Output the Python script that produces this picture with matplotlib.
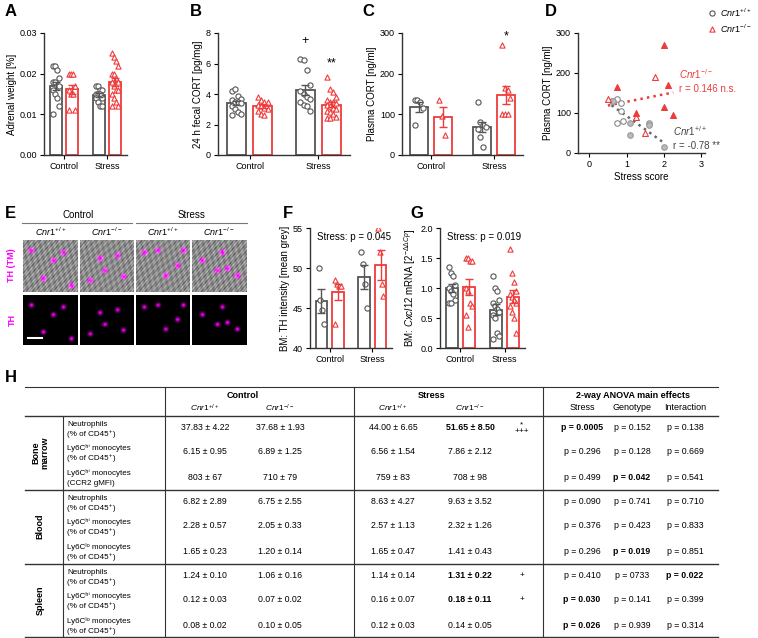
import numpy as np
import matplotlib.pyplot as plt

W, H = 758, 638
GREY = '#555555'
RED = '#ee3b3b'
WT = r'$\it{Cnr1}^{+/+}$'
KO = r'$\it{Cnr1}^{-/-}$'

# ---- data ----
groups = ['Control', 'Stress']
adrenal = {
    ('Control', 'wt'): [0.022, 0.022, 0.021, 0.019, 0.018, 0.018, 0.017, 0.017, 0.016, 0.015, 0.014, 0.012, 0.010],
    ('Control', 'ko'): [0.020, 0.020, 0.020, 0.017, 0.016, 0.015, 0.015, 0.011, 0.011],
    ('Stress', 'wt'): [0.017, 0.017, 0.016, 0.016, 0.015, 0.015, 0.015, 0.014, 0.014, 0.013, 0.012, 0.012],
    ('Stress', 'ko'): [0.025, 0.024, 0.023, 0.022, 0.020, 0.020, 0.019, 0.018, 0.018, 0.017, 0.016, 0.016, 0.015, 0.014, 0.013, 0.012, 0.012],
}
fecal = {
    ('Control', 'wt'): [4.2, 4.3, 3.9, 3.7, 3.6, 3.5, 3.5, 3.4, 3.2, 3.0, 2.8, 2.7, 2.6],
    ('Control', 'ko'): [3.8, 3.6, 3.5, 3.5, 3.3, 3.2, 3.1, 3.0, 2.9, 2.7, 2.6],
    ('Stress', 'wt'): [6.3, 6.2, 5.6, 4.6, 4.2, 4.0, 3.8, 3.7, 3.5, 3.3, 3.2, 2.9],
    ('Stress', 'ko'): [5.1, 4.3, 4.1, 3.8, 3.6, 3.5, 3.5, 3.4, 3.3, 3.2, 3.1, 3.0, 2.9, 2.8, 2.7, 2.5, 2.4, 2.4],
}
plasma = {
    ('Control', 'wt'): [135, 135, 130, 115, 75],
    ('Control', 'ko'): [135, 95, 50],
    ('Stress', 'wt'): [130, 80, 75, 70, 65, 45, 20],
    ('Stress', 'ko'): [270, 165, 160, 140, 100, 100, 100],
}
th_int = {
    ('Control', 'wt'): [50, 46, 44.7, 43],
    ('Control', 'ko'): [48.5, 48, 47.8, 47.7, 43],
    ('Stress', 'wt'): [52, 50.5, 48, 45],
    ('Stress', 'ko'): [55, 52, 48, 46.5],
}
cxcl12 = {
    ('Control', 'wt'): [1.35, 1.25, 1.2, 1.05, 1.0, 0.95, 0.9, 0.8, 0.75, 0.75],
    ('Control', 'ko'): [1.5, 1.5, 1.45, 1.45, 1.0, 0.95, 0.75, 0.7, 0.55, 0.35],
    ('Stress', 'wt'): [1.2, 1.0, 0.95, 0.8, 0.75, 0.7, 0.65, 0.6, 0.55, 0.5, 0.25, 0.2, 0.15],
    ('Stress', 'ko'): [1.65, 1.25, 1.1, 0.95, 0.9, 0.85, 0.8, 0.75, 0.7, 0.6, 0.5, 0.25],
}
# D scatter
d_wt_open_x = [0.6, 0.75, 0.75, 0.85, 0.85, 0.9]
d_wt_open_y = [130, 135, 75, 125, 105, 80]
d_wt_fill_x = [0.65, 1.1, 1.1, 1.6, 1.6, 2.0]
d_wt_fill_y = [130, 75, 45, 75, 70, 15]
d_ko_open_x = [0.5, 1.25, 1.5, 1.75]
d_ko_open_y = [135, 90, 50, 190]
d_ko_fill_x = [0.75, 1.25, 2.0, 2.0, 2.1, 2.25]
d_ko_fill_y = [165, 100, 270, 115, 170, 95]

# table
tbl_groups = ['Bone\nmarrow', 'Blood', 'Spleen']
tbl_rows_1 = ['Neutrophils', 'Ly6Cʰⁱ monocytes', 'Ly6Cʰⁱ monocytes',
              'Neutrophils', 'Ly6Cʰⁱ monocytes', 'Ly6Cˡᵒ monocytes',
              'Neutrophils', 'Ly6Cʰⁱ monocytes', 'Ly6Cˡᵒ monocytes']
tbl_rows_2 = ['(% of CD45⁺)', '(% of CD45⁺)', '(CCR2 gMFI)',
              '(% of CD45⁺)', '(% of CD45⁺)', '(% of CD45⁺)',
              '(% of CD45⁺)', '(% of CD45⁺)', '(% of CD45⁺)']
ctrl_wt = ['37.83 ± 4.22', '6.15 ± 0.95', '803 ± 67', '6.82 ± 2.89', '2.28 ± 0.57', '1.65 ± 0.23', '1.24 ± 0.10', '0.12 ± 0.03', '0.08 ± 0.02']
ctrl_ko = ['37.68 ± 1.93', '6.89 ± 1.25', '710 ± 79', '6.75 ± 2.55', '2.05 ± 0.33', '1.20 ± 0.14', '1.06 ± 0.16', '0.07 ± 0.02', '0.10 ± 0.05']
str_wt = ['44.00 ± 6.65', '6.56 ± 1.54', '759 ± 83', '8.63 ± 4.27', '2.57 ± 1.13', '1.65 ± 0.47', '1.14 ± 0.14', '0.16 ± 0.07', '0.12 ± 0.03']
str_ko = ['51.65 ± 8.50', '7.86 ± 2.12', '708 ± 98', '9.63 ± 3.52', '2.32 ± 1.26', '1.41 ± 0.43', '1.31 ± 0.22', '0.18 ± 0.11', '0.14 ± 0.05']
str_ko_bold = [1, 0, 0, 0, 0, 0, 1, 1, 0]
marks = ['*\n+++', '', '', '', '', '', '+', '+', '']
p_stress = ['p = 0.0005', 'p = 0.296', 'p = 0.499', 'p = 0.090', 'p = 0.376', 'p = 0.296', 'p = 0.410', 'p = 0.030', 'p = 0.026']
p_geno = ['p = 0.152', 'p = 0.128', 'p = 0.042', 'p = 0.741', 'p = 0.423', 'p = 0.019', 'p = 0733', 'p = 0.141', 'p = 0.939']
p_inter = ['p = 0.138', 'p = 0.669', 'p = 0.541', 'p = 0.710', 'p = 0.833', 'p = 0.851', 'p = 0.022', 'p = 0.399', 'p = 0.314']
bold_stress = [1, 0, 0, 0, 0, 0, 0, 1, 1]
bold_geno = [0, 0, 1, 0, 0, 1, 0, 0, 0]
bold_inter = [0, 0, 0, 0, 0, 0, 1, 0, 0]

plt.rcParams['font.family'] = ['Liberation Sans', 'DejaVu Sans']
plt.rcParams['mathtext.fontset'] = 'custom'
plt.rcParams['mathtext.rm'] = 'Liberation Sans'
plt.rcParams['mathtext.it'] = 'Liberation Sans:italic'
plt.rcParams['font.size'] = 7

fig = plt.figure(figsize=(W / 100, H / 100), dpi=100)


def ax_px(x0, y0, x1, y1):
    return fig.add_axes([x0 / W, 1 - y1 / H, (x1 - x0) / W, (y1 - y0) / H])


def ftx(x, y, s, **kw):
    fig.text(x / W, 1 - y / H, s, **kw)


def style(ax):
    for s in ['top', 'right']:
        ax.spines[s].set_visible(False)
    for s in ['left', 'bottom']:
        ax.spines[s].set_linewidth(1.0)
        ax.spines[s].set_color('#333333')
    ax.tick_params(labelsize=6.5, length=3, width=0.8, pad=2)


def barplot(ax, data, ylim, ticks, ylabel):
    pos = {('Control', 'wt'): 0, ('Control', 'ko'): 1, ('Stress', 'wt'): 2.6, ('Stress', 'ko'): 3.6}
    for key, vals in data.items():
        vals = np.array(vals)
        x = pos[key]
        c = GREY if key[1] == 'wt' else RED
        m = vals.mean()
        se = vals.std(ddof=1) / np.sqrt(len(vals))
        ax.bar(x, m, width=0.72, facecolor='white', edgecolor=c, linewidth=1.3, zorder=1)
        ax.errorbar(x, m, yerr=se, color=c, capsize=3, lw=1, capthick=1, zorder=3)
        n = len(vals)
        off = (np.arange(n) % 4 - 1.5) * 0.12
        if key[1] == 'wt':
            ax.scatter(x + off, vals, s=14, marker='o', facecolor='white', edgecolor=GREY, lw=0.8, zorder=2)
        else:
            ax.scatter(x + off, vals, s=14, marker='^', facecolor='white', edgecolor=RED, lw=0.8, zorder=2)
    ax.set_xlim(-0.7, 4.3)
    ax.set_ylim(*ylim)
    ax.set_yticks(ticks)
    ax.set_xticks([0.5, 3.1])
    ax.set_xticklabels(groups)
    ax.set_ylabel(ylabel, fontsize=7, labelpad=2)
    style(ax)


# A
ax = ax_px(44, 33, 127, 155)
barplot(ax, adrenal, (0, 0.03), [0, 0.01, 0.02, 0.03], 'Adrenal weight [%]')
ax.set_yticklabels(['0.00', '0.01', '0.02', '0.03'])
# B
ax = ax_px(218, 33, 350, 155)
barplot(ax, fecal, (0, 8), [0, 2, 4, 6, 8], '24 h fecal CORT [pg/mg]')
ax.text(2.6, 7.3, '+', ha='center', fontsize=9)
ax.text(3.6, 5.8, '**', ha='center', fontsize=9)
# C
ax = ax_px(402, 33, 523, 155)
barplot(ax, plasma, (0, 300), [0, 100, 200, 300], 'Plasma CORT [ng/ml]')
ax.text(3.6, 285, '*', ha='center', fontsize=9)

# D
ax = ax_px(578, 33, 705, 153)
ax.scatter(d_wt_open_x, d_wt_open_y, s=16, marker='o', facecolor='white', edgecolor='#888888', lw=0.8, zorder=3)
ax.scatter(d_wt_fill_x, d_wt_fill_y, s=16, marker='o', facecolor='#bbbbbb', edgecolor='#999999', lw=0.8, zorder=3)
ax.scatter(d_ko_open_x, d_ko_open_y, s=18, marker='^', facecolor='white', edgecolor=RED, lw=0.8, zorder=3)
ax.scatter(d_ko_fill_x, d_ko_fill_y, s=18, marker='^', facecolor=RED, edgecolor=RED, lw=0.8, zorder=3)
wx = np.array(d_wt_open_x + d_wt_fill_x); wy = np.array(d_wt_open_y + d_wt_fill_y)
kx = np.array(d_ko_open_x + d_ko_fill_x); ky = np.array(d_ko_open_y + d_ko_fill_y)
for xs, ys, c in [(wx, wy, '#666666'), (kx, ky, RED)]:
    k, b = np.polyfit(xs, ys, 1)
    xx = np.array([xs.min(), xs.max()])
    ax.plot(xx, k * xx + b, ':', color=c, lw=1.8, zorder=2)
ax.set_xlim(-0.3, 3.1)
ax.set_ylim(0, 300)
ax.set_xticks([0, 1, 2, 3])
ax.set_yticks([0, 100, 200, 300])
ax.set_xlabel('Stress score', fontsize=7, labelpad=2)
ax.set_ylabel('Plasma CORT [ng/ml]', fontsize=7, labelpad=2)
style(ax)
ax.text(2.4, 185, KO, color=RED, fontsize=7)
ax.text(2.4, 152, 'r = 0.146 n.s.', color=RED, fontsize=7)
ax.text(2.25, 42, WT, color='#444444', fontsize=7)
ax.text(2.25, 10, 'r = -0.78 **', color='#444444', fontsize=7)
# legend
leg = ax_px(704, 5, 720, 37)
leg.scatter([0.5], [0.75], s=14, marker='o', facecolor='white', edgecolor=GREY, lw=0.8)
leg.scatter([0.5], [0.25], s=14, marker='^', facecolor='white', edgecolor=RED, lw=0.8)
leg.set_xlim(0, 1); leg.set_ylim(0, 1); leg.axis('off')
ftx(720, 13, WT, fontsize=6.5, va='center')
ftx(720, 29, KO, fontsize=6.5, va='center')

# E images (schematic)
img_x = [22, 79, 135, 191, 247]
yy, xx = np.mgrid[0:52, 0:55]
texture = 0.55 + 0.12 * np.sin(xx * 0.9 + yy * 0.35) * np.cos(yy * 0.6 - xx * 0.2) + 0.08 * np.sin(xx * 2.1 + yy * 1.7)
blobs = [
    [(8, 10), (30, 20), (40, 12), (20, 38), (48, 45)],
    [(10, 40), (25, 30), (38, 15), (44, 36), (20, 18)],
    [(8, 12), (22, 10), (30, 35), (42, 25), (48, 10)],
    [(10, 20), (25, 30), (35, 28), (45, 35), (30, 12)],
]
for i in range(4):
    x0, x1 = img_x[i] + 1, img_x[i + 1] - 1
    top = ax_px(x0, 240, x1, 292)
    rgb = np.dstack([texture] * 3)
    bot = np.zeros((52, 55, 3))
    for (bx, by) in blobs[i]:
        d = np.exp(-((xx - bx) ** 2 + (yy - by) ** 2) / 5.0)
        rgb[..., 0] = np.clip(rgb[..., 0] + d, 0, 1)
        rgb[..., 1] = np.clip(rgb[..., 1] - 0.6 * d, 0, 1)
        rgb[..., 2] = np.clip(rgb[..., 2] + d, 0, 1)
        bot[..., 0] += d
        bot[..., 2] += d
    top.imshow(rgb, aspect='auto')
    bot_ax = ax_px(x0, 295, x1, 345)
    bot_ax.imshow(np.clip(bot, 0, 1), aspect='auto')
    for a in (top, bot_ax):
        a.set_xticks([]); a.set_yticks([])
        for s in a.spines.values():
            s.set_visible(False)
    ftx((img_x[i] + img_x[i + 1]) / 2, 232, WT if i % 2 == 0 else KO, ha='center', va='center', fontsize=6.5)
ftx(78, 215, 'Control', ha='center', va='center', fontsize=7)
ftx(191, 215, 'Stress', ha='center', va='center', fontsize=7)
fig.add_artist(plt.Line2D([22 / W, 132 / W], [1 - 223 / H] * 2, color='#777777', lw=0.8))
fig.add_artist(plt.Line2D([136 / W, 247 / W], [1 - 223 / H] * 2, color='#777777', lw=0.8))
ftx(12, 265, 'TH (TM)', rotation=90, ha='center', va='center', fontsize=6.5, color='magenta', fontweight='bold')
ftx(12, 320, 'TH', rotation=90, ha='center', va='center', fontsize=6.5, color='magenta', fontweight='bold')
fig.add_artist(plt.Line2D([28 / W, 42 / W], [1 - 338 / H] * 2, color='white', lw=1.5))

# F
ax = ax_px(310, 228, 392, 348)
barplot(ax, th_int, (40, 55), [40, 45, 50, 55], 'BM: TH intensity [mean grey]')
ax.text(-0.3, 53.5, 'Stress: p = 0.045', fontsize=7)
# G
ax = ax_px(440, 228, 525, 348)
barplot(ax, cxcl12, (0, 2.0), [0, 0.5, 1.0, 1.5, 2.0], r'BM: $\it{Cxcl12}$ mRNA [2$^{-\Delta\Delta Cp}$]')
ax.set_yticklabels(['0.0', '0.5', '1.0', '1.5', '2.0'])
ax.text(-0.3, 1.8, 'Stress: p = 0.019', fontsize=7)

# panel letters
for lab, x, y in [('A', 5, 12), ('B', 190, 12), ('C', 362, 12), ('D', 545, 12),
                  ('E', 5, 213), ('F', 283, 213), ('G', 410, 213), ('H', 5, 378)]:
    ftx(x, y, lab, fontsize=12, fontweight='bold', va='center')

# H table
L, R = 25, 718
def hline(y, x0=L, x1=R, lw=0.8):
    fig.add_artist(plt.Line2D([x0 / W, x1 / W], [1 - y / H] * 2, color='#333333', lw=lw))
def vline(x, y0, y1, lw=0.8):
    fig.add_artist(plt.Line2D([x / W] * 2, [1 - y0 / H, 1 - y1 / H], color='#333333', lw=lw))

hline(387)
hline(416, 25, 718, lw=1.0)
for yl in [490, 564]:
    hline(yl, lw=1.0)
hline(637, lw=1.0)
vline(165, 387, 637)
vline(354, 387, 637)
vline(543, 387, 637)
vline(63, 416, 637)
cwt, cko, swt, sko, mk, ps, pg, pi = 205, 280, 393, 470, 522, 582, 632, 685
ftx((cwt + cko) / 2, 395, 'Control', ha='center', va='center', fontsize=6.5, fontweight='bold')
ftx((swt + sko) / 2, 395, 'Stress', ha='center', va='center', fontsize=6.5, fontweight='bold')
ftx((ps + pi) / 2, 395, '2-way ANOVA main effects', ha='center', va='center', fontsize=6.5, fontweight='bold')
for x, s in [(cwt, WT), (cko, KO), (swt, WT), (sko, KO)]:
    ftx(x, 408, s, ha='center', va='center', fontsize=6, fontweight='bold')
for x, s in [(ps, 'Stress'), (pg, 'Genotype'), (pi, 'Interaction')]:
    ftx(x, 408, s, ha='center', va='center', fontsize=6.5)
row_y = [428, 452, 477, 502, 526, 551, 576, 600, 625]
for gi, g in enumerate(tbl_groups):
    ftx(40, (row_y[gi * 3] + row_y[gi * 3 + 2]) / 2, g, rotation=90, ha='center', va='center',
        fontsize=6.5, fontweight='bold', linespacing=1.0)
for i, y in enumerate(row_y):
    ftx(67, y - 2, tbl_rows_1[i], ha='left', va='baseline', fontsize=5.8)
    ftx(67, y + 8, tbl_rows_2[i], ha='left', va='baseline', fontsize=5.8)
    ftx(cwt, y, ctrl_wt[i], ha='center', va='center', fontsize=6.3)
    ftx(cko, y, ctrl_ko[i], ha='center', va='center', fontsize=6.3)
    ftx(swt, y, str_wt[i], ha='center', va='center', fontsize=6.3)
    ftx(sko, y, str_ko[i], ha='center', va='center', fontsize=6.3,
        fontweight='bold' if str_ko_bold[i] else 'normal')
    if marks[i]:
        ftx(mk, y, marks[i], ha='center', va='center', fontsize=6, linespacing=1.0)
    ftx(ps, y, p_stress[i], ha='center', va='center', fontsize=6.3, fontweight='bold' if bold_stress[i] else 'normal')
    ftx(pg, y, p_geno[i], ha='center', va='center', fontsize=6.3, fontweight='bold' if bold_geno[i] else 'normal')
    ftx(pi, y, p_inter[i], ha='center', va='center', fontsize=6.3, fontweight='bold' if bold_inter[i] else 'normal')

fig.savefig('out.png', dpi=100)
